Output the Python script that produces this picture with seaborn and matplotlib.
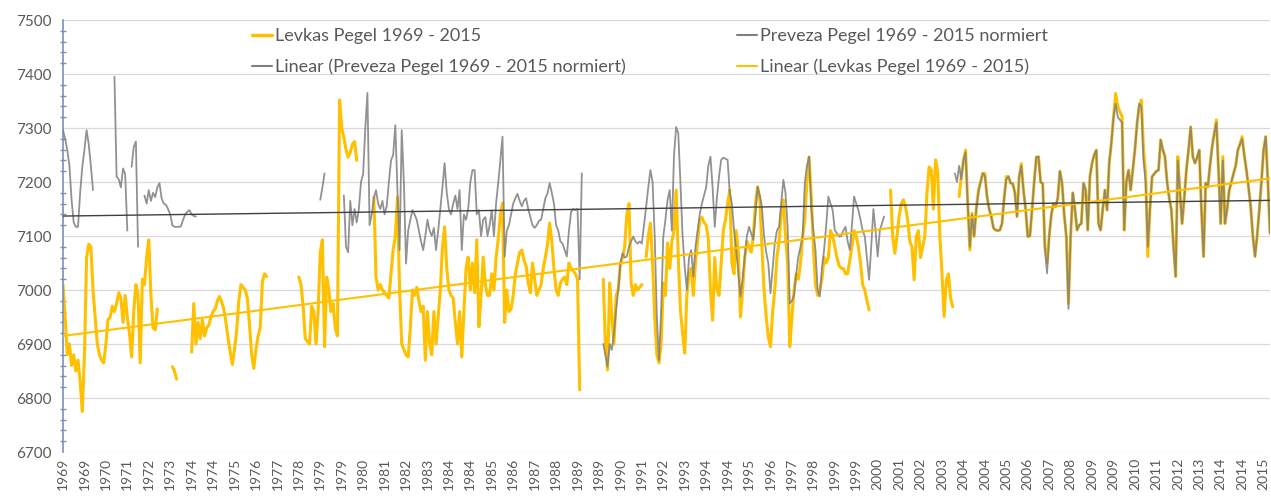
import numpy as np
import pandas as pd
import matplotlib
matplotlib.use("Agg")
import matplotlib.pyplot as plt
from matplotlib.lines import Line2D
from matplotlib.ticker import MultipleLocator
import seaborn as sns

N = np.nan
start_year = 1969

# Monthly water levels, one row per year (Jan..Dec), 1969-2015
levkas = [
    7010, 6950, 6880, 6900, 6860, 6880, 6850, 6870, 6830, 6775, 6880, 7060,  # 1969
    7085, 7080, 7000, 6950, 6900, 6880, 6870, 6865, 6900, 6945, 6950, 6970,  # 1970
    6960, 6975, 6995, 6985, 6940, 6990, 6950, 6920, 6876, 6960, 7010, 6990,  # 1971
    6865, 7020, 7010, 7060, 7093, 6990, 6930, 6926, 6965, N, N, N,           # 1972
    N, N, N, 6858, 6850, 6835, N, N, N, N, N, N,                             # 1973
    6885, 6975, 6900, 6940, 6910, 6945, 6915, 6930, 6935, 6950, 6960, 6965,  # 1974
    6980, 6988, 6978, 6965, 6940, 6910, 6885, 6862, 6890, 6925, 6980, 7010,  # 1975
    7005, 7000, 6985, 6935, 6880, 6855, 6890, 6915, 6930, 7015, 7030, 7025,  # 1976
    N, N, N, N, N, N, N, N, N, N, N, N,                                      # 1977
    N, N, 7024, 7010, 6970, 6910, 6905, 6900, 6970, 6960, 6900, 6960,        # 1978
    7070, 7093, 6895, 7024, 7000, 6960, 6975, 6930, 6915, 7352, 7300, 7283,  # 1979
    7260, 7246, 7255, 7270, 7275, 7240, N, N, N, N, N, N,                    # 1980
    N, 7172, 7024, 7000, 7010, 7000, 6995, 6990, 6985, 7030, 7074, 7100,     # 1981
    7172, 7000, 6900, 6890, 6880, 6876, 6930, 7000, 6990, 7005, 6980, 6960,  # 1982
    6970, 6870, 6960, 6900, 6880, 6960, 6900, 6950, 7000, 7080, 7117, 7040,  # 1983
    7000, 6990, 6985, 6940, 6900, 6960, 6876, 6960, 7040, 7061, 7000, 7050,  # 1984
    6995, 7093, 6932, 6990, 7061, 7010, 6990, 6990, 7030, 7000, 7060, 7093,  # 1985
    7140, 7161, 6940, 7000, 6960, 6965, 6990, 7030, 7050, 7070, 7074, 7055,  # 1986
    7045, 7013, 6995, 7050, 7020, 6990, 7000, 7010, 7040, 7061, 7085, 7124,  # 1987
    7090, 7040, 7000, 6990, 7013, 7020, 7024, 7010, 7050, 7040, 7035, 7030,  # 1988
    7020, 6815, N, N, N, N, N, N, N, N, N, N,                                # 1989
    7020, 6900, 6852, 7013, 6950, 6900, 6990, 7000, 7050, 7060, 7080, 7140,  # 1990
    7160, 7013, 6990, 7010, 7000, 7005, 7010, N, 7061, 7100, 7124, 7050,     # 1991
    6950, 6880, 6865, 6900, 7013, 6990, 7087, 7040, 7090, 7110, 7185, 7060,  # 1992
    6963, 6920, 6883, 6990, 7030, 7040, 6990, 7050, 7090, 7130, 7135, 7125,  # 1993
    7120, 7095, 7000, 6944, 7060, 7000, 6990, 7050, 7110, 7130, 7160, 7185,  # 1994
    7050, 7030, 7110, 7070, 6950, 7000, 7060, 7090, 7080, 7070, 7100, 7160,  # 1995
    7191, 7170, 7080, 7000, 6950, 6913, 6895, 6960, 7000, 7060, 7090, 7140,  # 1996
    7167, 7100, 7050, 6895, 6950, 7000, 7030, 7020, 7050, 7100, 7130, 7200,  # 1997
    7246, 7175, 7080, 7010, 6990, 7000, 7020, 7060, 7050, 7060, 7110, 7100,  # 1998
    7080, 7060, 7045, 7040, 7040, 7030, 7030, 7055, 7080, 7110, 7100, 7080,  # 1999
    7050, 7010, 7000, 6980, 6963, N, N, N, N, N, N, N,                       # 2000
    N, N, 7185, 7099, 7068, 7100, 7136, 7160, 7167, 7154, 7130, 7090,        # 2001
    7080, 7019, 7099, 7110, 7060, 7080, 7100, 7180, 7228, 7222, 7150, 7241,  # 2002
    7220, 7100, 7030, 6951, 7018, 7030, 6985, 6969, N, N, 7173, 7210,        # 2003
    7240, 7259, 7160, 7074, 7142, 7099, 7150, 7185, 7200, 7216, 7216, 7173,  # 2004
    7150, 7136, 7115, 7111, 7110, 7111, 7123, 7170, 7210, 7210, 7198, 7197,  # 2005
    7180, 7136, 7210, 7234, 7185, 7150, 7099, 7100, 7148, 7200, 7246, 7247,  # 2006
    7200, 7197, 7080, 7050, 7099, 7140, 7160, 7154, 7170, 7220, 7198, 7140,  # 2007
    7099, 6975, 7100, 7180, 7150, 7111, 7120, 7123, 7198, 7185, 7111, 7210,  # 2008
    7235, 7250, 7259, 7123, 7111, 7150, 7185, 7148, 7235, 7272, 7320, 7364,  # 2009
    7340, 7330, 7321, 7111, 7200, 7222, 7185, 7222, 7260, 7309, 7340, 7352,  # 2010
    7260, 7216, 7062, 7150, 7210, 7215, 7220, 7222, 7278, 7260, 7247, 7200,  # 2011
    7170, 7148, 7080, 7025, 7247, 7180, 7123, 7170, 7222, 7260, 7302, 7247,  # 2012
    7235, 7245, 7259, 7150, 7062, 7198, 7191, 7230, 7265, 7290, 7315, 7220,  # 2013
    7123, 7247, 7123, 7150, 7185, 7200, 7216, 7230, 7259, 7270, 7284, 7250,  # 2014
    7222, 7190, 7154, 7100, 7062, 7100, 7148, 7200, 7259, 7284, 7200, 7105,  # 2015
]

preveza = [
    7296, 7280, 7259, 7230, 7167, 7125, 7117, 7117, 7180, 7228, 7260, 7296,  # 1969
    7270, 7230, 7185, N, N, N, N, N, N, N, N, N,                             # 1970
    7395, 7210, 7205, 7190, 7225, 7215, 7110, N, 7228, 7265, 7275, 7080,     # 1971
    N, N, 7175, 7160, 7185, 7165, 7180, 7172, 7190, 7198, 7170, 7160,        # 1972
    7158, 7150, 7140, 7120, 7117, 7117, 7117, 7118, 7130, 7140, 7145, 7148,  # 1973
    7140, 7137, 7136, N, N, N, N, N, N, N, N, N,                             # 1974
    N, N, N, N, N, N, N, N, N, N, N, N,                                      # 1975
    N, N, N, N, N, N, N, N, N, N, N, N,                                      # 1976
    N, N, N, N, N, N, N, N, N, N, N, N,                                      # 1977
    N, N, N, N, N, N, N, N, N, N, N, N,                                      # 1978
    7167, 7190, 7216, N, N, N, N, N, N, N, N, 7175,                          # 1979
    7080, 7070, 7165, 7120, 7150, 7125, 7150, 7200, 7215, 7300, 7365, 7120,  # 1980
    7140, 7170, 7185, 7160, 7150, 7165, 7140, 7155, 7200, 7240, 7250, 7305,  # 1981
    7185, 7074, 7296, 7200, 7049, 7110, 7130, 7148, 7140, 7130, 7110, 7090,  # 1982
    7074, 7100, 7130, 7110, 7100, 7115, 7074, 7110, 7150, 7191, 7235, 7180,  # 1983
    7150, 7140, 7160, 7175, 7150, 7185, 7074, 7140, 7130, 7150, 7200, 7222,  # 1984
    7222, 7140, 7148, 7100, 7130, 7135, 7100, 7120, 7148, 7100, 7160, 7198,  # 1985
    7240, 7284, 7062, 7110, 7120, 7140, 7160, 7170, 7178, 7165, 7155, 7165,  # 1986
    7170, 7150, 7135, 7120, 7115, 7120, 7128, 7130, 7150, 7170, 7179, 7198,  # 1987
    7180, 7160, 7120, 7110, 7090, 7086, 7074, 7062, 7110, 7145, 7150, 7148,  # 1988
    7150, 7020, 7216, N, N, N, N, N, N, N, N, N,                             # 1989
    6900, 6880, 6858, 6900, 6889, 6920, 6963, 7000, 7049, 7068, 7060, 7062,  # 1990
    7080, 7090, 7099, 7090, 7086, 7090, 7086, 7120, 7154, 7190, 7222, 7200,  # 1991
    7100, 6950, 6870, 6960, 7099, 7130, 7167, 7185, 7110, 7250, 7302, 7290,  # 1992
    7198, 7100, 7043, 7000, 7060, 7074, 7025, 7080, 7110, 7140, 7160, 7175,  # 1993
    7190, 7230, 7247, 7190, 7117, 7170, 7210, 7241, 7245, 7243, 7241, 7180,  # 1994
    7160, 7110, 7074, 7030, 6988, 7020, 7062, 7100, 7117, 7105, 7093, 7140,  # 1995
    7191, 7175, 7154, 7100, 7070, 7049, 6994, 7040, 7086, 7110, 7117, 7160,  # 1996
    7204, 7180, 7117, 6975, 6980, 6990, 7030, 7062, 7080, 7099, 7198, 7230,  # 1997
    7247, 7154, 7110, 7074, 7000, 6988, 7040, 7074, 7120, 7173, 7160, 7148,  # 1998
    7111, 7105, 7099, 7100, 7110, 7117, 7090, 7074, 7120, 7173, 7160, 7148,  # 1999
    7130, 7110, 7099, 7060, 7019, 7080, 7150, 7110, 7062, 7110, 7123, 7136,  # 2000
    N, N, N, N, N, N, N, N, N, N, N, N,                                      # 2001
    N, N, N, N, N, N, N, N, N, N, N, N,                                      # 2002
    N, N, N, N, N, N, N, N, 7216, 7200, 7230, 7205,                          # 2003
    7240, 7255, 7160, 7080, 7140, 7100, 7150, 7180, 7200, 7216, 7212, 7173,  # 2004
    7150, 7136, 7115, 7111, 7110, 7111, 7123, 7170, 7205, 7210, 7198, 7197,  # 2005
    7180, 7136, 7210, 7230, 7185, 7150, 7099, 7100, 7148, 7200, 7246, 7247,  # 2006
    7200, 7197, 7080, 7031, 7099, 7140, 7160, 7154, 7170, 7220, 7198, 7140,  # 2007
    7099, 6965, 7100, 7180, 7150, 7111, 7120, 7123, 7198, 7185, 7111, 7210,  # 2008
    7235, 7250, 7259, 7123, 7111, 7150, 7185, 7148, 7235, 7272, 7320, 7345,  # 2009
    7320, 7315, 7310, 7111, 7200, 7222, 7185, 7222, 7260, 7309, 7345, 7340,  # 2010
    7240, 7200, 7080, 7150, 7210, 7215, 7220, 7222, 7278, 7260, 7247, 7200,  # 2011
    7170, 7148, 7080, 7025, 7240, 7180, 7123, 7170, 7222, 7260, 7302, 7247,  # 2012
    7235, 7245, 7259, 7150, 7062, 7198, 7191, 7230, 7265, 7290, 7310, 7220,  # 2013
    7123, 7240, 7123, 7150, 7185, 7200, 7216, 7230, 7259, 7270, 7280, 7250,  # 2014
    7222, 7190, 7154, 7100, 7062, 7100, 7148, 7200, 7259, 7284, 7200, 7105,  # 2015
]

legend_labels = [
    "Levkas Pegel 1969 - 2015",
    "Linear (Preveza Pegel 1969 - 2015 normiert)",
    "Preveza Pegel 1969 - 2015 normiert",
    "Linear (Levkas Pegel 1969 - 2015)",
]
y_min, y_max, y_step = 6700, 7500, 100

YELLOW = "#FFC000"
GRAY = "#7F7F7F"
DARK = "#404040"
TEXT = "#595959"

months = np.arange(len(levkas))
tick_pos = months[::10]
tick_labels = [str(start_year + int(m) // 12) for m in tick_pos]


def segments(vals):
    s = pd.Series(vals, dtype=float)
    seg = s.isna().cumsum()
    return pd.DataFrame({"month": months, "value": s, "seg": seg}).dropna()


def trend(vals):
    s = np.asarray(vals, dtype=float)
    ok = ~np.isnan(s)
    k, b = np.polyfit(months[ok], s[ok], 1)
    return pd.DataFrame({"month": months, "value": k * months + b})


sns.set_theme(style="white")
plt.rcParams["font.family"] = ["Lato", "DejaVu Sans"]

fig = plt.figure(figsize=(12.71, 4.98), dpi=100)
ax = fig.add_axes([63 / 1271, 1 - 452 / 498, 1207 / 1271, 432 / 498])

sns.lineplot(data=segments(levkas), x="month", y="value", units="seg",
             estimator=None, color=YELLOW, lw=2.2, ax=ax, zorder=2)
sns.lineplot(data=segments(preveza), x="month", y="value", units="seg",
             estimator=None, color=GRAY, lw=1.3, alpha=0.85, ax=ax, zorder=3)
sns.lineplot(data=trend(levkas), x="month", y="value", color=YELLOW,
             lw=1.5, ax=ax, zorder=4)
sns.lineplot(data=trend(preveza), x="month", y="value", color=DARK,
             lw=1.0, ax=ax, zorder=4)

ax.set_xlim(0, len(levkas) - 1)
ax.set_ylim(y_min, y_max)
ax.set_xticks(tick_pos)
ax.set_xticklabels(tick_labels, rotation=90, fontsize=10, color=TEXT)
ax.set_yticks(np.arange(y_min, y_max + 1, y_step))
ax.tick_params(axis="y", labelsize=11, labelcolor=TEXT)
ax.yaxis.set_minor_locator(MultipleLocator(20))
ax.tick_params(axis="y", which="major", direction="out", length=5,
               color="#7F8FB5", width=1)
ax.tick_params(axis="y", which="minor", direction="inout", length=5,
               color="#7F8FB5", width=1, left=True)
ax.tick_params(axis="x", length=0, pad=4)
ax.set_xlabel("")
ax.set_ylabel("")
ax.grid(axis="y", color="#D9D9D9", lw=0.9)
ax.set_axisbelow(True)
for side in ["top", "right", "bottom"]:
    ax.spines[side].set_visible(False)
ax.spines["left"].set_color("#7F8FB5")
ax.spines["left"].set_linewidth(1.2)

handles = [
    Line2D([], [], color=YELLOW, lw=2.5),
    Line2D([], [], color=GRAY, lw=1.5),
    Line2D([], [], color=GRAY, lw=1.5),
    Line2D([], [], color=YELLOW, lw=1.5),
]
leg = fig.legend(handles, legend_labels, ncol=2, loc="upper left",
                 bbox_to_anchor=(243 / 1271, 1 - 19 / 498), frameon=False,
                 fontsize=13, handlelength=1.1, handletextpad=0.15,
                 columnspacing=6.2, labelspacing=0.8, borderpad=0)
for t in leg.get_texts():
    t.set_color(TEXT)

fig.savefig("out.png", dpi=100, facecolor="white")
